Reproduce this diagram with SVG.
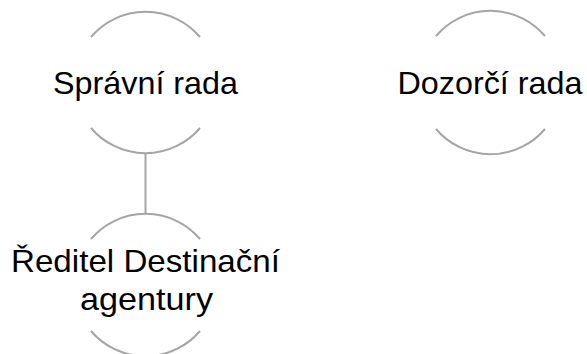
<svg xmlns="http://www.w3.org/2000/svg" width="587" height="354" viewBox="0 0 587 354">
<style>
.arc{fill:none;stroke:#a5a5a5;stroke-width:2}
.lbl{font-family:"Liberation Sans",Arial,sans-serif;font-size:32px;fill:#000;text-anchor:middle}
</style>
<rect width="587" height="354" fill="#fff"/>
<g id="connectors">
<line class="arc" x1="145.5" y1="154" x2="145.5" y2="213"/>
</g>
<g id="spravni-rada">
<path class="arc" d="M91,37 A71.5,71.5 0 0 1 200,37"/>
<path class="arc" d="M91,128 A71.5,71.5 0 0 0 200,128"/>
<text class="lbl" x="145.5" y="94" textLength="185" lengthAdjust="spacingAndGlyphs">Správní rada</text>
</g>
<g id="dozorci-rada">
<path class="arc" d="M436,36 A71.5,71.5 0 0 1 545,36"/>
<path class="arc" d="M436,129 A71.5,71.5 0 0 0 545,129"/>
<text class="lbl" x="490" y="94" textLength="185" lengthAdjust="spacingAndGlyphs">Dozorčí rada</text>
</g>
<g id="reditel">
<path class="arc" d="M91,239 A71.5,71.5 0 0 1 200,239"/>
<path class="arc" d="M91,331 A71.5,71.5 0 0 0 200,331"/>
<text class="lbl" x="145.5" y="272" textLength="269" lengthAdjust="spacingAndGlyphs">Ředitel Destinační</text>
<text class="lbl" x="146.5" y="310" textLength="133" lengthAdjust="spacingAndGlyphs">agentury</text>
</g>
</svg>
